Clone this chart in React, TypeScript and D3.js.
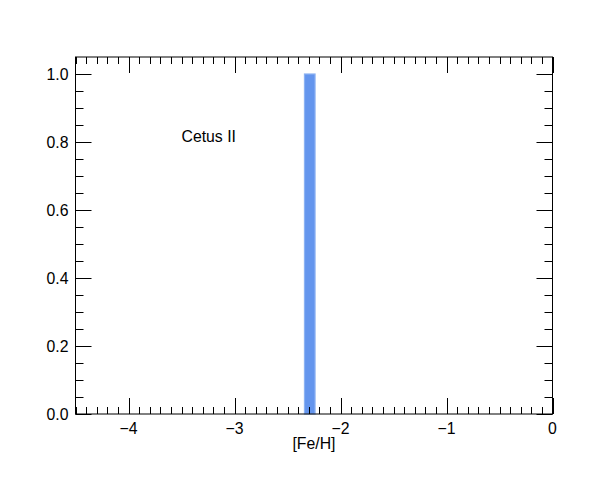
import React, { useRef, useEffect } from "react";
import * as d3 from "d3";

// histogram bins: [x0, x1] and count (normalised)
const binStarts = [-2.34];
const binEnds = [-2.24];
const binValues = [1.0];
const galaxyName = "Cetus II";
const xTicks = [-4, -3, -2, -1, 0];
const yTicks = [0, 0.2, 0.4, 0.6, 0.8, 1.0];

export default function App() {
  const svgRef = useRef<SVGSVGElement>(null);

  useEffect(() => {
    const svg = d3.select(svgRef.current);
    svg.selectAll("*").remove();

    const left = 75.5, right = 552.5, top = 57, bottom = 414;
    const x = d3.scaleLinear().domain([-4.5, 0]).range([left, right]);
    const y = d3.scaleLinear().domain([0, 1.05]).range([bottom, top]);
    const font = "'Liberation Sans', Arial, sans-serif";
    const fs = 15.8;

    // bars
    svg.selectAll(".bar")
      .data(binValues)
      .join("rect")
      .attr("class", "bar")
      .attr("x", (d, i) => x(binStarts[i]))
      .attr("width", (d, i) => x(binEnds[i]) - x(binStarts[i]))
      .attr("y", (d) => y(d))
      .attr("height", (d) => y(0) - y(d))
      .attr("fill", "#6495ed")
      .attr("stroke", "#8cb2f2")
      .attr("stroke-width", 1.2);

    const g = svg.append("g").attr("stroke", "#000").attr("stroke-width", 1);

    // minor / major x ticks (bottom & top)
    const xMinor = d3.range(-45, 1).map((v) => v / 10);
    xMinor.forEach((v) => {
      const major = Math.abs(v - Math.round(v)) < 1e-6;
      const len = major ? 16 : 7;
      const px = Math.round(x(v)) + 0.5;
      g.append("line").attr("x1", px).attr("x2", px).attr("y1", bottom).attr("y2", bottom - len);
      g.append("line").attr("x1", px).attr("x2", px).attr("y1", top).attr("y2", top + len);
    });

    // y ticks left & right
    const yMinor = d3.range(0, 21).map((v) => v * 0.05);
    yMinor.forEach((v, i) => {
      const major = i % 4 === 0;
      const len = major ? 16 : 8;
      const py = Math.round(y(v)) + 0.5;
      g.append("line").attr("x1", left).attr("x2", left + len).attr("y1", py).attr("y2", py);
      g.append("line").attr("x1", right).attr("x2", right - len).attr("y1", py).attr("y2", py);
    });

    // frame
    g.append("rect")
      .attr("x", left).attr("y", top)
      .attr("width", right - left).attr("height", bottom - top)
      .attr("fill", "none");

    // tick labels
    svg.selectAll(".xlab")
      .data(xTicks)
      .join("text")
      .attr("class", "xlab")
      .attr("x", (d) => x(d))
      .attr("y", bottom + 20)
      .attr("text-anchor", "middle")
      .attr("font-family", font)
      .attr("font-size", fs)
      .text((d) => (d < 0 ? "\u2212" + Math.abs(d) : String(d)));

    svg.selectAll(".ylab")
      .data(yTicks)
      .join("text")
      .attr("class", "ylab")
      .attr("x", left - 7)
      .attr("y", (d) => y(d) + 5.5)
      .attr("text-anchor", "end")
      .attr("font-family", font)
      .attr("font-size", fs)
      .text((d) => d.toFixed(1));

    svg.append("text")
      .attr("x", x(-2.25))
      .attr("y", bottom + 35)
      .attr("text-anchor", "middle")
      .attr("font-family", font)
      .attr("font-size", fs)
      .text("[Fe/H]");

    svg.append("text")
      .attr("x", x(-3.5))
      .attr("y", y(0.8))
      .attr("font-family", font)
      .attr("font-size", fs)
      .text(galaxyName);
  }, []);

  return (
    <div style={{ position: "absolute", left: 0, top: 0 }}>
      <svg ref={svgRef} width={599} height={479} style={{ display: "block", background: "#fff" }} />
    </div>
  );
}
